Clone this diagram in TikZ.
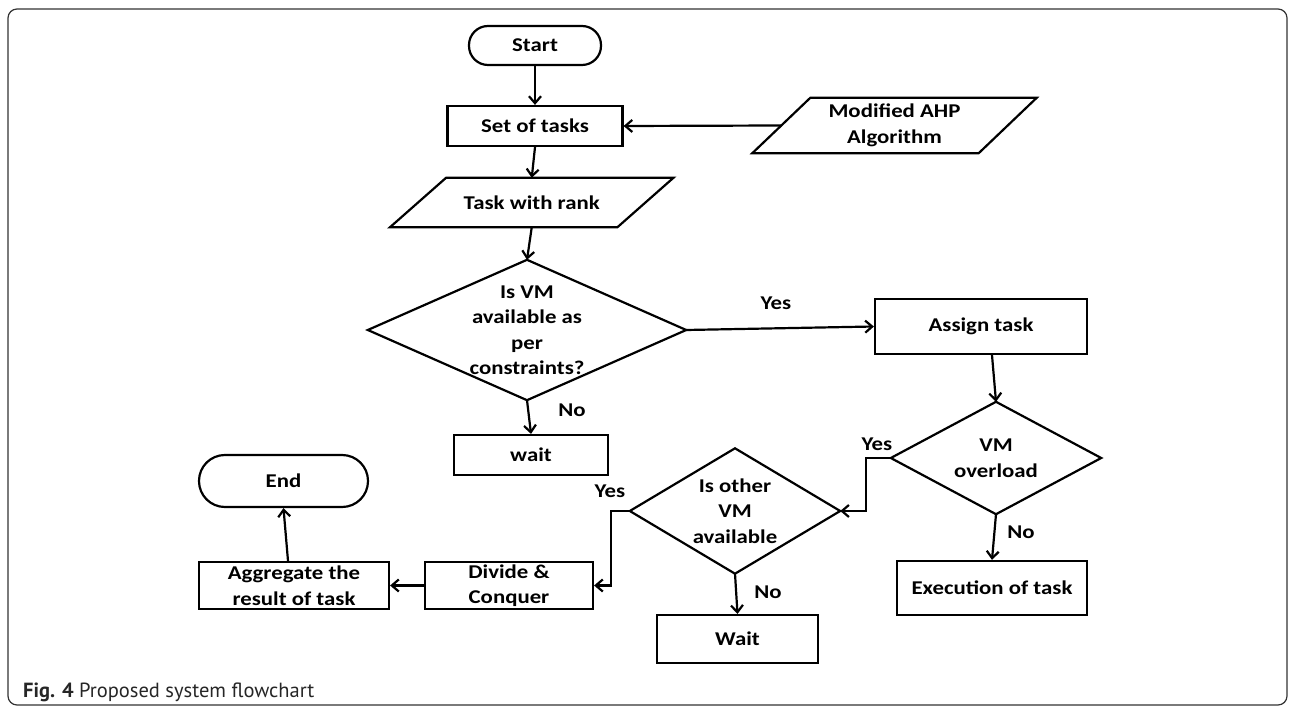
\documentclass[tikz,border=0pt]{standalone}
\usepackage{fontspec}
\setmainfont{Carlito}[FakeStretch=1.17]
\newfontfamily\capfont{PT Sans}
\usetikzlibrary{arrows.meta,calc}
\begin{document}
\begin{tikzpicture}[x=1pt,y=-1pt,
  every node/.style={font=\bfseries\fontsize{19.5}{25.5}\selectfont, inner sep=0pt, align=center, text=black},
  shp/.style={draw=black, line width=2.2pt, line join=miter},
  proc/.style={shp},
  term/.style={shp, rounded corners=#1},
  arr/.style={line width=2.2pt, -{Straight Barb[length=7pt,width=12pt]}},
  lbl/.style={font=\bfseries\fontsize{19.5}{22}\selectfont},
  framestyle/.style={draw=black!80, line width=1.2pt, rounded corners=9pt}]
\useasboundingbox (0,0) rectangle (1291,708);
\draw[framestyle] (8,9) rectangle (1287,705);

% nodes
\node[term=19pt, minimum width=132, minimum height=39] (start) at (535,45.5) {Start};
\node[proc, minimum width=175, minimum height=40] (set) at (535,126) {Set of tasks};
\node[minimum width=227, minimum height=49] (rank) at (531.75,202.5) {Task with rank};
\node[minimum width=226, minimum height=55] (ahp) at (894.5,125.5) {Modified AHP\\Algorithm};
\node[minimum width=318, minimum height=140] (d1) at (527,330) {Is VM\\available as\\per\\constraints?};
\node[proc, minimum width=212, minimum height=55] (assign) at (981,326.5) {Assign task};
\node[proc, minimum width=154, minimum height=40] (wait1) at (531,455) {wait};
\node[minimum width=210, minimum height=112] (ov) at (996,458) {VM\\overload};
\node[proc, minimum width=190, minimum height=54] (exec) at (992,588) {Execution of task};
\node[minimum width=210, minimum height=125] (oth) at (735,511) {Is other\\VM\\available};
\node[proc, minimum width=161, minimum height=48] (wait2) at (737.5,639) {Wait};
\node[proc, minimum width=168, minimum height=47] (div) at (509,585.5) {Divide \&\\Conquer};
\node[proc, minimum width=190, minimum height=47] (agg) at (294,585.5) {Aggregate the\\result of task};
\node[term=25.9pt, minimum width=169, minimum height=52] (end) at (283.5,481) {End};

% shapes drawn from anchors
\draw[shp] ([xshift=28pt]rank.north west) -- ([xshift=28pt]rank.north east) -- ([xshift=-28pt]rank.south east) -- ([xshift=-28pt]rank.south west) -- cycle;
\draw[shp] ([xshift=29pt]ahp.north west) -- ([xshift=29pt]ahp.north east) -- ([xshift=-29pt]ahp.south east) -- ([xshift=-29pt]ahp.south west) -- cycle;
\draw[shp] (d1.north) -- (d1.east) -- (d1.south) -- (d1.west) -- cycle;
\draw[shp] (ov.north) -- (ov.east) -- (ov.south) -- (ov.west) -- cycle;
\draw[shp] (oth.north) -- (oth.east) -- (oth.south) -- (oth.west) -- cycle;

% connectors
\draw[arr] (start.south) -- (set.north);
\draw[arr] (ahp.west) -- (set.east);
\draw[arr] (set.south) -- (rank.north);
\draw[arr] (rank.south) -- (d1.north);
\draw[arr] (d1.east) -- (assign.west);
\draw[arr] (d1.south) -- (wait1.north);
\draw[arr] ([xshift=11pt]assign.south) -- (ov.north);
\draw[arr] (ov.west) -- ++(-25,0) |- (oth.east);
\draw[arr] (ov.south) -- (exec.north);
\draw[arr] (oth.south) -- (wait2.north);
\draw[arr] (oth.west) -- ++(-19,0) |- (div.east);
\draw[arr] (div.west) -- (agg.east);
\draw[arr] ([xshift=-6pt]agg.north) -- (end.south);

% labels
\node[lbl] (yes1) at (776,303) {Yes};
\node[lbl] (no1) at (572,410) {No};
\node[lbl] (yes2) at (877,444) {Yes};
\node[lbl] (no2) at (1021,532) {No};
\node[lbl] (no3) at (768,592) {No};
\node[lbl] (yes3) at (610,491) {Yes};

% caption
\node[anchor=base west, font=\capfont\fontsize{20.5}{22}\selectfont, text=black!85] (cap) at (23,697) {\textbf{Fig. 4} Proposed system flowchart};
\end{tikzpicture}
\end{document}
